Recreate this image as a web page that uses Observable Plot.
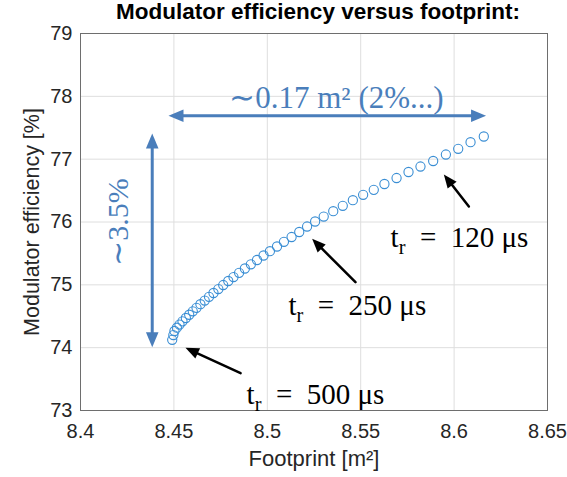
<!DOCTYPE html>
<html>
<head>
<meta charset="utf-8">
<script src="https://cdn.jsdelivr.net/npm/d3@7"></script>
<script src="https://cdn.jsdelivr.net/npm/@observablehq/plot@0.6"></script>
<style>
  html, body { margin: 0; padding: 0; background: white; }
</style>
</head>
<body>
<div id="chart"></div>
<script>
// ---- data ----
const footprint = [
  8.4491, 8.4497, 8.4503, 8.4516, 8.4530, 8.4546, 8.4564, 8.4582, 8.4601, 8.4621,
  8.4642, 8.4665, 8.4688, 8.4712, 8.4738, 8.4764, 8.4791, 8.4819, 8.4849, 8.4880,
  8.4912, 8.4945, 8.4980, 8.5014, 8.5052, 8.5089, 8.5130, 8.5171, 8.5213, 8.5256,
  8.5302, 8.5353, 8.5404, 8.5458, 8.5513, 8.5570, 8.5627, 8.5692, 8.5756, 8.5820,
  8.5888, 8.5956, 8.6022, 8.6088, 8.6159
];
const efficiency = [
  74.125, 74.201, 74.265, 74.318, 74.368, 74.419, 74.472, 74.524, 74.579, 74.634,
  74.692, 74.750, 74.809, 74.870, 74.933, 74.997, 75.061, 75.124, 75.191, 75.260,
  75.327, 75.395, 75.467, 75.535, 75.610, 75.685, 75.761, 75.841, 75.928, 76.008,
  76.087, 76.172, 76.258, 76.347, 76.433, 76.512, 76.605, 76.700, 76.796, 76.883,
  76.971, 77.074, 77.165, 77.270, 77.361
];
const xTicks = [8.4, 8.45, 8.5, 8.55, 8.6, 8.65];
const xTickLabels = ["8.4", "8.45", "8.5", "8.55", "8.6", "8.65"];
const yTicks = [73, 74, 75, 76, 77, 78, 79];
const yTickLabels = ["73", "74", "75", "76", "77", "78", "79"];
const xDomain = [8.4, 8.65];
const yDomain = [73, 79];

const titleText = "Modulator efficiency versus footprint:";
const xLabel = "Footprint [m²]";
const yLabel = "Modulator efficiency [%]";

// annotations (data coordinates)
const spanLabel = "∼0.17 m² (2%...)";
const spanLabelPos = {x: 8.537, y: 77.81};
const riseLabel = "∼3.5%";
const riseLabelPos = {x: 8.4205, y: 76.0};
const spanArrow = {x1: 8.4471, x2: 8.6171, y1: 77.69, y2: 77.69};
const riseArrow = {x1: 8.4384, x2: 8.4384, y1: 74.007, y2: 77.408};
const trLabels = ["t_r = 120 μs", "t_r = 250 μs", "t_r = 500 μs"];
const trLabelX = [8.5660, 8.5113, 8.4889];
const trLabelY = [75.599, 74.512, 73.111];
const trArrowX1 = [8.6079, 8.5472, 8.4857];
const trArrowY1 = [76.247, 75.042, 73.593];
const trArrowX2 = [8.5945, 8.5240, 8.4562];
const trArrowY2 = [76.756, 75.732, 73.998];

// ---- build ----
const W = 567, H = 477, mL = 80, mR = 20, mT = 33, mB = 67;
const kx = (W - mL - mR) / (xDomain[1] - xDomain[0]);
const ky = (H - mT - mB) / (yDomain[1] - yDomain[0]);
const angleOf = (x1, y1, x2, y2) =>
  Math.atan2(-(y2 - y1) * ky, (x2 - x1) * kx) * 180 / Math.PI + 90;

const points = footprint.map((x, i) => ({x, y: efficiency[i]}));
const trArrows = trLabels.map((t, i) => ({
  x1: trArrowX1[i], y1: trArrowY1[i], x2: trArrowX2[i], y2: trArrowY2[i],
  a: angleOf(trArrowX1[i], trArrowY1[i], trArrowX2[i], trArrowY2[i])
}));
const trText = trLabels.map((t, i) => ({t, x: trLabelX[i], y: trLabelY[i]}));
const blueHeads = [
  {x: spanArrow.x2, y: spanArrow.y2, a: angleOf(spanArrow.x1, spanArrow.y1, spanArrow.x2, spanArrow.y2)},
  {x: spanArrow.x1, y: spanArrow.y1, a: angleOf(spanArrow.x2, spanArrow.y2, spanArrow.x1, spanArrow.y1)},
  {x: riseArrow.x2, y: riseArrow.y2, a: angleOf(riseArrow.x1, riseArrow.y1, riseArrow.x2, riseArrow.y2)},
  {x: riseArrow.x1, y: riseArrow.y1, a: angleOf(riseArrow.x2, riseArrow.y2, riseArrow.x1, riseArrow.y1)}
];

// arrowhead symbol: tip at origin, pointing up
const arrowHead = {
  draw(ctx, size) {
    const r = Math.sqrt(size / Math.PI);
    const L = r * 2.5, w = r * 1.05;
    ctx.moveTo(0, 0);
    ctx.lineTo(-w, L);
    ctx.lineTo(w, L);
    ctx.closePath();
  }
};

const blue = "#4a7ebb";
const serif = "'Liberation Serif', 'Times New Roman', serif";

const chart = Plot.plot({
  width: W, height: H,
  marginLeft: mL, marginRight: mR, marginTop: mT, marginBottom: mB,
  style: {fontFamily: "'Liberation Sans', Arial, Helvetica, sans-serif", background: "white", color: "#262626", overflow: "visible"},
  x: {domain: xDomain},
  y: {domain: yDomain},
  marks: [
    Plot.gridX(xTicks, {stroke: "#dedede", strokeOpacity: 1, strokeWidth: 1}),
    Plot.gridY(yTicks, {stroke: "#dedede", strokeOpacity: 1, strokeWidth: 1}),
    Plot.frame({stroke: "#6e6e6e", strokeWidth: 1}),
    Plot.axisX(xTicks, {tickSize: 0, tickPadding: 13, fontSize: 20, label: null, tickFormat: (d, i) => xTickLabels[i]}),
    Plot.axisY(yTicks, {tickSize: 0, tickPadding: 8, fontSize: 20, label: null, tickFormat: (d, i) => yTickLabels[i]}),
    Plot.text([xLabel], {frameAnchor: "bottom", dy: 55, fontSize: 22, fill: "#262626"}),
    Plot.text([yLabel], {frameAnchor: "left", dx: -48, rotate: -90, textAnchor: "middle", fontSize: 21.5, fill: "#262626"}),
    Plot.text([titleText], {frameAnchor: "top", dx: 4, dy: -15, lineAnchor: "bottom", fontSize: 22.5, fontWeight: "bold", fill: "black"}),
    // data
    Plot.dot(points, {x: "x", y: "y", r: 4.6, stroke: "#3a8ed4", strokeWidth: 1.1, fill: "none"}),
    // blue double arrows
    Plot.arrow([spanArrow, riseArrow], {x1: "x1", y1: "y1", x2: "x2", y2: "y2", stroke: blue, strokeWidth: 3, headLength: 0, insetStart: 10, insetEnd: 10}),
    Plot.dot(blueHeads, {x: "x", y: "y", rotate: "a", symbol: arrowHead, r: 6, fill: blue, stroke: "none"}),
    Plot.text([spanLabel], {x: () => spanLabelPos.x, y: () => spanLabelPos.y, text: d => d, fontFamily: serif, fontSize: 31, fill: blue, lineAnchor: "bottom"}),
    Plot.text([riseLabel], {x: () => riseLabelPos.x, y: () => riseLabelPos.y, text: d => d, fontFamily: serif, fontSize: 30, fill: blue, rotate: -90}),
    // black arrows + labels
    Plot.arrow(trArrows, {x1: "x1", y1: "y1", x2: "x2", y2: "y2", stroke: "black", strokeWidth: 2.5, headLength: 0, insetEnd: 9}),
    Plot.dot(trArrows, {x: "x2", y: "y2", rotate: "a", symbol: arrowHead, r: 5.4, fill: "black", stroke: "none"}),
    Plot.text(trText, {x: "x", y: "y", text: "t", fontFamily: serif, fontSize: 29, fill: "black", textAnchor: "start", lineAnchor: "bottom"})
  ]
});

// subscript r in "t_r"
d3.select(chart).selectAll("text").each(function() {
  const s = this.textContent;
  if (s.startsWith("t_r")) {
    const rest = s.slice(3);
    const el = d3.select(this);
    el.text(null);
    el.append("tspan").text("t");
    el.append("tspan").attr("dy", 7).attr("font-size", "70%").text("r");
    el.append("tspan").attr("dy", -7).text(rest.replace(/ = /, "\u2002=\u2002"));
  }
});

document.getElementById("chart").appendChild(chart);
</script>
</body>
</html>
